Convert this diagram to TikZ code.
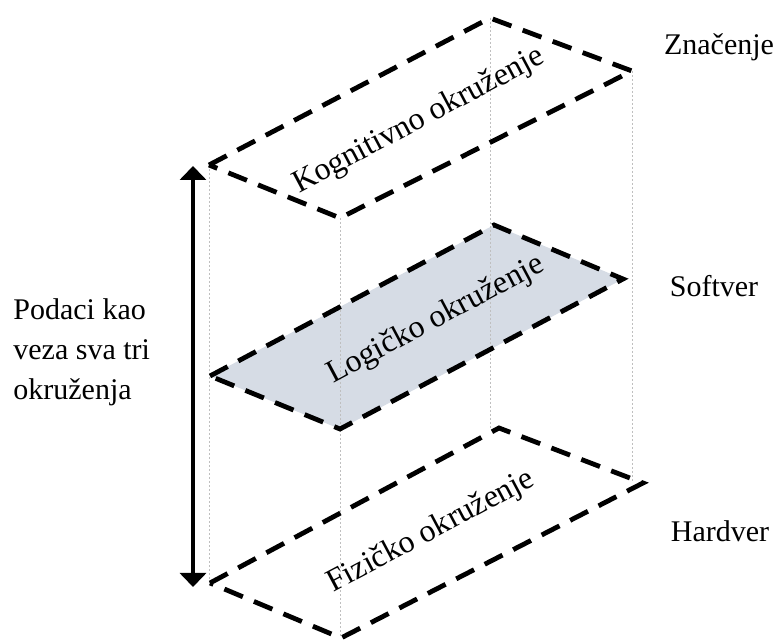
\documentclass[tikz,border=0pt]{standalone}
\usepackage{fontspec}
\setmainfont{Liberation Serif}
\usetikzlibrary{arrows.meta,positioning}
\definecolor{planefill}{HTML}{D6DCE5}
\definecolor{guidegray}{HTML}{BFBFBF}
\tikzset{
  plane/.style={line width=2.4pt, dash pattern=on 10pt off 6pt, line join=miter},
  guide/.style={guidegray, line width=0.5pt, dash pattern=on 1pt off 1pt},
  lbl/.style={font=\fontsize{15}{20}\selectfont, inner sep=0pt},
  plbl/.style={font=\fontsize{16}{20}\selectfont, inner sep=0pt, rotate=28}
}
\begin{document}
\begin{tikzpicture}[x=0.5pt,y=-0.5pt]
\useasboundingbox (0,0) rectangle (776,640);

\coordinate (kl) at (209,165);
\coordinate (kt) at (490,18);
\coordinate (kr) at (632,71);
\coordinate (kb) at (340,218);

\coordinate (ll) at (210,376);
\coordinate (lt) at (494,225);
\coordinate (lr) at (623,279);
\coordinate (lb) at (340,429);

\coordinate (fl) at (210,583);
\coordinate (ft) at (499,428);
\coordinate (fr) at (643,483);
\coordinate (fb) at (341,638);

\fill [planefill] (ll) -- (lt) -- (lr) -- (lb) -- cycle;

\draw [guide] (kl) -- (kl |- fl);
\draw [guide] (kb) -- (kb |- fb);
\draw [guide] (kt) -- (kt |- ft);
\draw [guide] (kr) -- (kr |- fr);

\draw [plane] (kl) -- (kt) -- (kr) -- (kb) -- cycle;
\draw [plane] (ll) -- (lt) -- (lr) -- (lb) -- cycle;
\draw [plane] (fl) -- (ft) -- (fr) -- (fb) -- cycle;

\node [plbl] (kog) at (419,121) {Kognitivno okruženje};
\node [plbl] (log) at (436,320) {Logičko okruženje};
\node [plbl] (fiz) at (431,532) {Fizičko okruženje};

\node [lbl] (znac) at (719,47) {Značenje};
\node [lbl] (soft) at (714,286) {Softver};
\node [lbl] (hard) at (720,531) {Hardver};

\node [lbl, anchor=west, align=left] (podaci) at (13,352) {Podaci kao\\veza sva tri\\okruženja};

\coordinate (atop) at (193,166);
\coordinate (abot) at (193,587);
\draw [line width=2pt, {Triangle[width=13pt,length=7pt]}-{Triangle[width=13pt,length=7pt]}] (atop) -- (abot);
\end{tikzpicture}
\end{document}
